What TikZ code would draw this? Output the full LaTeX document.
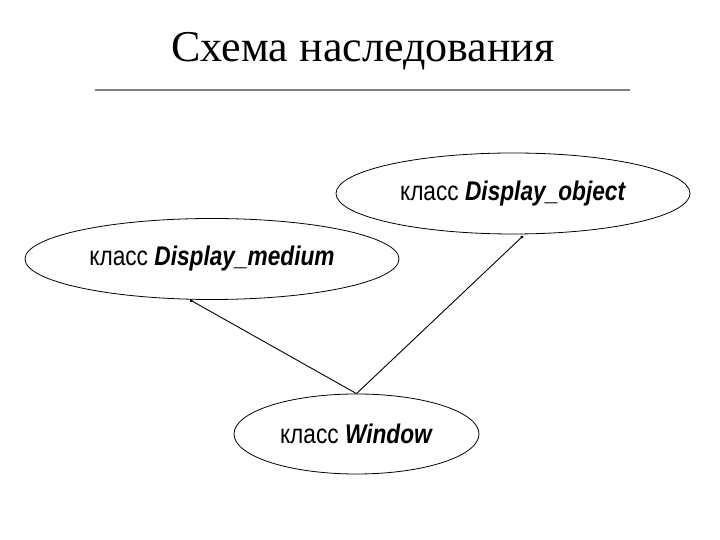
\documentclass[tikz,border=0pt]{standalone}
\usepackage{fontspec}
\setmainfont{Liberation Serif}
\setsansfont{Liberation Sans}
\usetikzlibrary{shapes.geometric,arrows.meta}
\newcommand{\narrowtxt}[1]{\scalebox{0.84}[1]{#1}}
\tikzset{
  cls/.style={ellipse,draw=black,line width=0.8pt,inner sep=0pt,font=\sffamily\fontsize{27}{32}\selectfont},
  inh/.style={draw=black,line width=0.9pt,-{Circle[length=3pt]}}
}
\begin{document}
\begin{tikzpicture}[x=1pt,y=1pt]
\useasboundingbox (0,0) rectangle (720,540);
\node[font=\fontsize{44}{50}\selectfont] (title) at (363,489) {Схема наследования};
\draw[line width=2pt,gray] (95,450) coordinate (rl) -- (630,450) coordinate (rr);
\node[cls,minimum width=374pt,minimum height=81pt] (med) at (212,281) {\narrowtxt{класс \textbf{\textit{Display\_medium}}}};
\node[cls,minimum width=354pt,minimum height=81pt] (obj) at (513,346.5) {\narrowtxt{класс \textbf{\textit{Display\_object}}}};
\node[cls,minimum width=245pt,minimum height=80pt] (win) at (356.5,106) {\narrowtxt{класс \textbf{\textit{Window}}}};
\draw[inh] (win.north) -- (med.south -| 190,0);
\draw[inh] (win.north) -- (523,304);
\end{tikzpicture}
\end{document}
